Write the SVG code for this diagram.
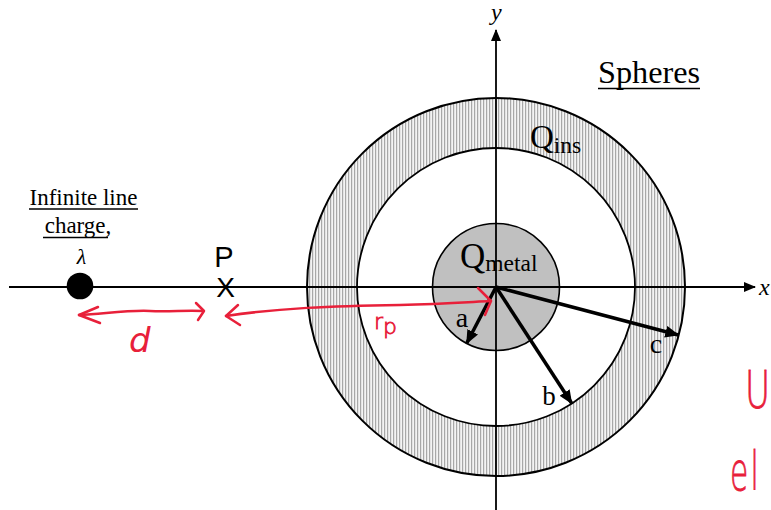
<svg xmlns="http://www.w3.org/2000/svg" width="771" height="510" viewBox="0 0 771 510">
<style>
.serif{font-family:"Liberation Serif","Times New Roman",serif;fill:#000}
.sans{font-family:"Liberation Sans",Arial,sans-serif;fill:#000}
.red{stroke:#e8203a;stroke-width:2.5;fill:none;stroke-linecap:round;stroke-linejoin:round}
.redtxt{font-family:"DejaVu Sans","Liberation Sans",sans-serif;fill:#e8203a}
.thin{font-weight:200;stroke:#e8203a;stroke-width:0.8}
.ax{stroke:#000;fill:none}
.rad{stroke:#000;stroke-width:3.5;fill:none}
.ul{stroke:#000;stroke-width:1.5}
</style>
<defs>
<pattern id="hatch" patternUnits="userSpaceOnUse" width="3" height="10">
<rect width="3" height="10" fill="#f4f4f4"/>
<rect x="0" width="1.2" height="10" fill="#a8a8a8"/>
</pattern>
<marker id="ah" markerUnits="userSpaceOnUse" markerWidth="14" markerHeight="12" refX="13" refY="6" orient="auto">
<path d="M0,0 L14,6 L0,12 Z" fill="#000"/>
</marker>
<marker id="axh" markerUnits="userSpaceOnUse" markerWidth="12" markerHeight="10" refX="11" refY="5" orient="auto">
<path d="M0,0 L12,5 L0,10 Z" fill="#000"/>
</marker>
</defs>
<rect width="771" height="510" fill="#fff"/>

<g id="spheres">
<circle cx="496" cy="287" r="189" fill="url(#hatch)" stroke="#000" stroke-width="2"/>
<circle cx="496" cy="287" r="139" fill="#fff" stroke="#000" stroke-width="1.8"/>
<circle cx="496" cy="287" r="63.5" fill="#c0c0c0" stroke="#000" stroke-width="1.6"/>
</g>

<g id="axes">
<line class="ax" x1="9" y1="287" x2="755" y2="287" stroke-width="2" marker-end="url(#axh)"/>
<line class="ax" x1="496" y1="510" x2="496" y2="30" stroke-width="1.8" marker-end="url(#axh)"/>
<text class="serif" x="759" y="295" font-size="24" font-style="italic">x</text>
<text class="serif" x="491" y="20" font-size="24" font-style="italic">y</text>
</g>

<g id="connectors">
<line class="rad" x1="496" y1="287" x2="466.7" y2="343.3" marker-end="url(#ah)"/>
<line class="rad" x1="496" y1="287" x2="571.7" y2="403.3" marker-end="url(#ah)"/>
<line class="rad" x1="496" y1="287" x2="678.3" y2="335" marker-end="url(#ah)"/>
</g>

<g id="labels">
<text class="serif" x="460" y="268" font-size="35">Q<tspan font-size="23.5" dy="3">metal</tspan></text>
<text class="serif" x="530" y="148" font-size="33">Q<tspan font-size="23.5" dy="4.5">ins</tspan></text>
<text class="serif" x="462" y="327" font-size="28" text-anchor="middle">a</text>
<text class="serif" x="549" y="405" font-size="27" text-anchor="middle">b</text>
<text class="serif" x="656" y="353" font-size="28" text-anchor="middle">c</text>
</g>

<g id="title">
<text class="serif" x="598" y="83" font-size="31" textLength="102" lengthAdjust="spacingAndGlyphs">Spheres</text>
<line class="ul" x1="598" y1="88.5" x2="700" y2="88.5"/>
</g>

<g id="line-charge">
<text class="serif" x="83.5" y="205" font-size="23" text-anchor="middle">Infinite line</text>
<line class="ul" x1="29" y1="209" x2="138" y2="209"/>
<text class="serif" x="78" y="233" font-size="23" text-anchor="middle">charge,</text>
<line class="ul" x1="43" y1="237.5" x2="108" y2="237.5"/>
<text class="serif" x="81.5" y="264" font-size="22" font-style="italic" text-anchor="middle">λ</text>
<circle cx="80" cy="286" r="13.3" fill="#000"/>
</g>

<g id="point-P">
<text class="sans" x="224" y="266.5" font-size="29" text-anchor="middle">P</text>
<text class="sans" x="225.5" y="296.7" font-size="28" text-anchor="middle">X</text>
</g>

<g id="annotations">
<path class="red" d="M79,315 C110,313 130,310 150,311 C170,312 185,310 203,311"/>
<path class="red" d="M98,307 L79,315 L100,323"/>
<path class="red" d="M196,303 L204,311 L198,320"/>
<path class="red" d="M226,316 C280,308 330,306 400,305 C440,304 470,302 491,301"/>
<path class="red" d="M238,305 L226,316 L240,325"/>
<path class="red" d="M478,288 L491,301 L485,315"/>
<text class="redtxt" x="129" y="352" font-size="34" font-style="italic">d</text>
<text class="redtxt thin" x="374" y="329" font-size="22">r<tspan dy="5">p</tspan></text>
<text class="redtxt thin" transform="translate(745,408) scale(0.66,1)" font-size="52">U</text>
<text class="redtxt thin" transform="translate(730,490) scale(0.55,1)" font-size="54" letter-spacing="4">el</text>
</g>
</svg>
